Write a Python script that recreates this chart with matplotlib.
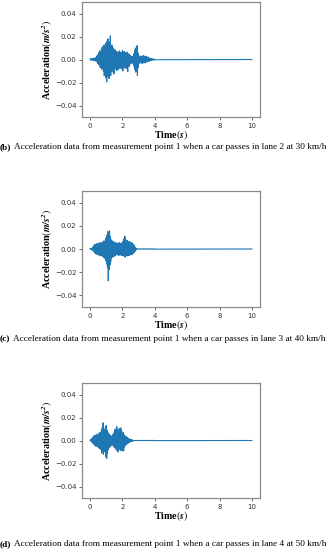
import matplotlib
matplotlib.use("Agg")
import matplotlib.pyplot as plt

plt.rcParams['mathtext.fontset'] = 'stix'

# ---------------- data ----------------
time_s = [0.00, 0.05, 0.10, 0.15, 0.20, 0.25, 0.30, 0.35, 0.40, 0.45,
          0.50, 0.55, 0.60, 0.65, 0.70, 0.75, 0.80, 0.85, 0.90, 0.95,
          1.00, 1.05, 1.10, 1.15, 1.20, 1.25, 1.30, 1.35, 1.40, 1.45,
          1.50, 1.55, 1.60, 1.65, 1.70, 1.75, 1.80, 1.85, 1.90, 1.95,
          2.00, 2.05, 2.10, 2.15, 2.20, 2.25, 2.30, 2.35, 2.40, 2.45,
          2.50, 2.55, 2.60, 2.65, 2.70, 2.75, 2.80, 2.85, 2.90, 2.95,
          3.00, 3.05, 3.10, 3.15, 3.20, 3.25, 3.30, 3.35, 3.40, 3.45,
          3.50, 3.55, 3.60, 3.65, 3.70, 3.75, 3.80, 3.85, 3.90, 3.95, 4.00]
record_end_s = 10.0

# (b) lane 2, 30 km/h: positive and negative peaks per time step
b_upper = [0.0005, 0.0006, 0.0005, 0.0008, 0.0006, 0.0010, 0.0012, 0.0015, 0.0025, 0.0040,
           0.0035, 0.0060, 0.0075, 0.0050, 0.0090, 0.0110, 0.0080, 0.0125, 0.0100, 0.0140,
           0.0120, 0.0160, 0.0180, 0.0130, 0.0150, 0.0205, 0.0110, 0.0125, 0.0080, 0.0100,
           0.0065, 0.0085, 0.0050, 0.0070, 0.0040, 0.0060, 0.0075, 0.0050, 0.0065, 0.0045,
           0.0080, 0.0055, 0.0070, 0.0045, 0.0060, 0.0040, 0.0065, 0.0045, 0.0050, 0.0030,
           0.0035, 0.0025, 0.0020, 0.0030, 0.0050, 0.0080, 0.0100, 0.0070, 0.0120, 0.0060,
           0.0040, 0.0020, 0.0025, 0.0030, 0.0020, 0.0030, 0.0035, 0.0025, 0.0030, 0.0020,
           0.0025, 0.0015, 0.0020, 0.0012, 0.0010, 0.0008, 0.0006, 0.0005, 0.0004, 0.0003, 0.0002]
b_lower = [-0.0005, -0.0004, -0.0006, -0.0005, -0.0008, -0.0007, -0.0012, -0.0015, -0.0020, -0.0035,
           -0.0045, -0.0040, -0.0070, -0.0060, -0.0085, -0.0075, -0.0100, -0.0140, -0.0110, -0.0160,
           -0.0195, -0.0130, -0.0150, -0.0165, -0.0120, -0.0140, -0.0100, -0.0085, -0.0110, -0.0125,
           -0.0080, -0.0070, -0.0095, -0.0060, -0.0090, -0.0065, -0.0075, -0.0050, -0.0080, -0.0060,
           -0.0100, -0.0055, -0.0070, -0.0050, -0.0080, -0.0060, -0.0105, -0.0050, -0.0060, -0.0040,
           -0.0035, -0.0025, -0.0030, -0.0040, -0.0060, -0.0090, -0.0110, -0.0080, -0.0140, -0.0070,
           -0.0035, -0.0025, -0.0030, -0.0025, -0.0035, -0.0025, -0.0030, -0.0020, -0.0030, -0.0020,
           -0.0020, -0.0015, -0.0015, -0.0012, -0.0010, -0.0008, -0.0006, -0.0005, -0.0004, -0.0003, -0.0002]

# (c) lane 3, 40 km/h
c_upper = [0.0003, 0.0004, 0.0006, 0.0010, 0.0020, 0.0030, 0.0040, 0.0035, 0.0045, 0.0040,
           0.0050, 0.0045, 0.0055, 0.0045, 0.0050, 0.0060, 0.0055, 0.0070, 0.0060, 0.0085,
           0.0100, 0.0120, 0.0150, 0.0100, 0.0157, 0.0110, 0.0080, 0.0060, 0.0070, 0.0050,
           0.0060, 0.0045, 0.0055, 0.0040, 0.0050, 0.0045, 0.0055, 0.0040, 0.0050, 0.0045,
           0.0060, 0.0070, 0.0090, 0.0110, 0.0080, 0.0060, 0.0075, 0.0055, 0.0065, 0.0050,
           0.0060, 0.0045, 0.0055, 0.0040, 0.0035, 0.0025, 0.0010, 0.0003, 0.0001, 0.0001,
           0.0001, 0.0001, 0.0001, 0.0001, 0.0001, 0.0001, 0.0001, 0.0001, 0.0001, 0.0001,
           0.0001, 0.0001, 0.0001, 0.0001, 0.0001, 0.0001, 0.0001, 0.0001, 0.0001, 0.0001, 0.0001]
c_lower = [-0.0003, -0.0005, -0.0006, -0.0012, -0.0020, -0.0030, -0.0040, -0.0045, -0.0040, -0.0050,
           -0.0045, -0.0055, -0.0050, -0.0060, -0.0050, -0.0065, -0.0060, -0.0080, -0.0070, -0.0100,
           -0.0130, -0.0160, -0.0275, -0.0180, -0.0140, -0.0110, -0.0080, -0.0070, -0.0060, -0.0065,
           -0.0050, -0.0055, -0.0045, -0.0050, -0.0045, -0.0055, -0.0050, -0.0045, -0.0055, -0.0050,
           -0.0060, -0.0055, -0.0065, -0.0070, -0.0060, -0.0055, -0.0060, -0.0050, -0.0055, -0.0045,
           -0.0050, -0.0040, -0.0045, -0.0035, -0.0030, -0.0020, -0.0010, -0.0003, -0.0001, -0.0001,
           -0.0001, -0.0001, -0.0001, -0.0001, -0.0001, -0.0001, -0.0001, -0.0001, -0.0001, -0.0001,
           -0.0001, -0.0001, -0.0001, -0.0001, -0.0001, -0.0001, -0.0001, -0.0001, -0.0001, -0.0001, -0.0001]

# (d) lane 4, 50 km/h
d_upper = [0.0003, 0.0008, 0.0015, 0.0025, 0.0035, 0.0040, 0.0045, 0.0040, 0.0050, 0.0045,
           0.0055, 0.0060, 0.0070, 0.0060, 0.0090, 0.0110, 0.0154, 0.0100, 0.0080, 0.0120,
           0.0130, 0.0090, 0.0070, 0.0060, 0.0050, 0.0045, 0.0035, 0.0040, 0.0050, 0.0060,
           0.0080, 0.0100, 0.0070, 0.0120, 0.0090, 0.0070, 0.0105, 0.0080, 0.0110, 0.0085,
           0.0060, 0.0070, 0.0050, 0.0040, 0.0035, 0.0030, 0.0025, 0.0020, 0.0015, 0.0012,
           0.0010, 0.0008, 0.0005, 0.0003, 0.0001, 0.0001, 0.0001, 0.0001, 0.0001, 0.0001,
           0.0001, 0.0001, 0.0001, 0.0001, 0.0001, 0.0001, 0.0001, 0.0001, 0.0001, 0.0001,
           0.0001, 0.0001, 0.0001, 0.0001, 0.0001, 0.0001, 0.0001, 0.0001, 0.0001, 0.0001, 0.0001]
d_lower = [-0.0003, -0.0008, -0.0015, -0.0025, -0.0030, -0.0040, -0.0045, -0.0050, -0.0045, -0.0055,
           -0.0060, -0.0070, -0.0065, -0.0080, -0.0110, -0.0090, -0.0120, -0.0080, -0.0100, -0.0140,
           -0.0157, -0.0110, -0.0080, -0.0065, -0.0055, -0.0045, -0.0040, -0.0035, -0.0045, -0.0055,
           -0.0060, -0.0075, -0.0070, -0.0090, -0.0100, -0.0080, -0.0070, -0.0085, -0.0075, -0.0090,
           -0.0080, -0.0090, -0.0060, -0.0045, -0.0035, -0.0030, -0.0025, -0.0020, -0.0015, -0.0012,
           -0.0010, -0.0008, -0.0005, -0.0003, -0.0001, -0.0001, -0.0001, -0.0001, -0.0001, -0.0001,
           -0.0001, -0.0001, -0.0001, -0.0001, -0.0001, -0.0001, -0.0001, -0.0001, -0.0001, -0.0001,
           -0.0001, -0.0001, -0.0001, -0.0001, -0.0001, -0.0001, -0.0001, -0.0001, -0.0001, -0.0001, -0.0001]

panel_tags = ["(b)", "(c)", "(d)"]
captions = ["Acceleration data from measurement point 1 when a car passes in lane 2 at 30 km/h",
            "Acceleration data from measurement point 1 when a car passes in lane 3 at 40 km/h",
            "Acceleration data from measurement point 1 when a car passes in lane 4 at 50 km/h"]
x_ticks = [0, 2, 4, 6, 8, 10]
y_ticks = [-0.04, -0.02, 0.00, 0.02, 0.04]
signals = [(b_upper, b_lower), (c_upper, c_lower), (d_upper, d_lower)]

# ---------------- layout ----------------
W, H = 330, 550
fig = plt.figure(figsize=(W / 100, H / 100), dpi=100)
axes_px = [(2, 117), (191, 307), (383, 498)]   # top, bottom in px
caption_y_px = [147, 339, 544]
left_px, right_px = 82, 260
half_step = 0.025

for (top, bot), (up, lo), tag, cap, cy in zip(axes_px, signals, panel_tags, captions, caption_y_px):
    ax = fig.add_axes([left_px / W, 1 - bot / H, (right_px - left_px) / W, (bot - top) / H])
    tx, ty = [], []
    for t, u, l in zip(time_s, up, lo):
        tx += [t, t + half_step]
        ty += [u, l]
    tx.append(record_end_s)
    ty.append(0.0)
    ax.plot(tx, ty, color="#1f77b4", lw=0.8)
    ax.set_xlim(-0.5, 10.5)
    ax.set_ylim(-0.05, 0.05)
    ax.set_xticks(x_ticks)
    ax.set_xticklabels([str(v) for v in x_ticks])
    ax.set_yticks(y_ticks)
    ax.set_yticklabels(["\u22120.04", "\u22120.02", "0.00", "0.02", "0.04"])
    ax.tick_params(labelsize=5, length=2, width=0.5, pad=2, colors="#333333")
    for s in ax.spines.values():
        s.set_color("#8a8a8a")
        s.set_linewidth(0.9)
    ax.set_ylabel(r"Acceleration$\left(\mathbfit{m/s^2}\right)$",
                  family="Liberation Serif", fontweight="bold", fontsize=7.2)
    ax.set_xlabel(r"Time$(\mathbfit{s})$", family="Liberation Serif",
                  fontweight="bold", fontsize=7.2)
    hpx = bot - top
    ax.yaxis.set_label_coords((55 - left_px) / (right_px - left_px), 0.5)
    ax.xaxis.set_label_coords(0.5, -11.5 / hpx)
    t1 = fig.text(0.0, 1 - cy / H, tag, family="Liberation Serif", fontweight="bold",
                  fontsize=6.7, va="center", ha="left")
    ax.annotate(cap, xy=(1, 0.5), xycoords=t1, xytext=(2, 0), textcoords="offset points",
                family="Liberation Serif", fontsize=6.7, va="center", ha="left",
                annotation_clip=False)

fig.savefig("out.png", dpi=100)
